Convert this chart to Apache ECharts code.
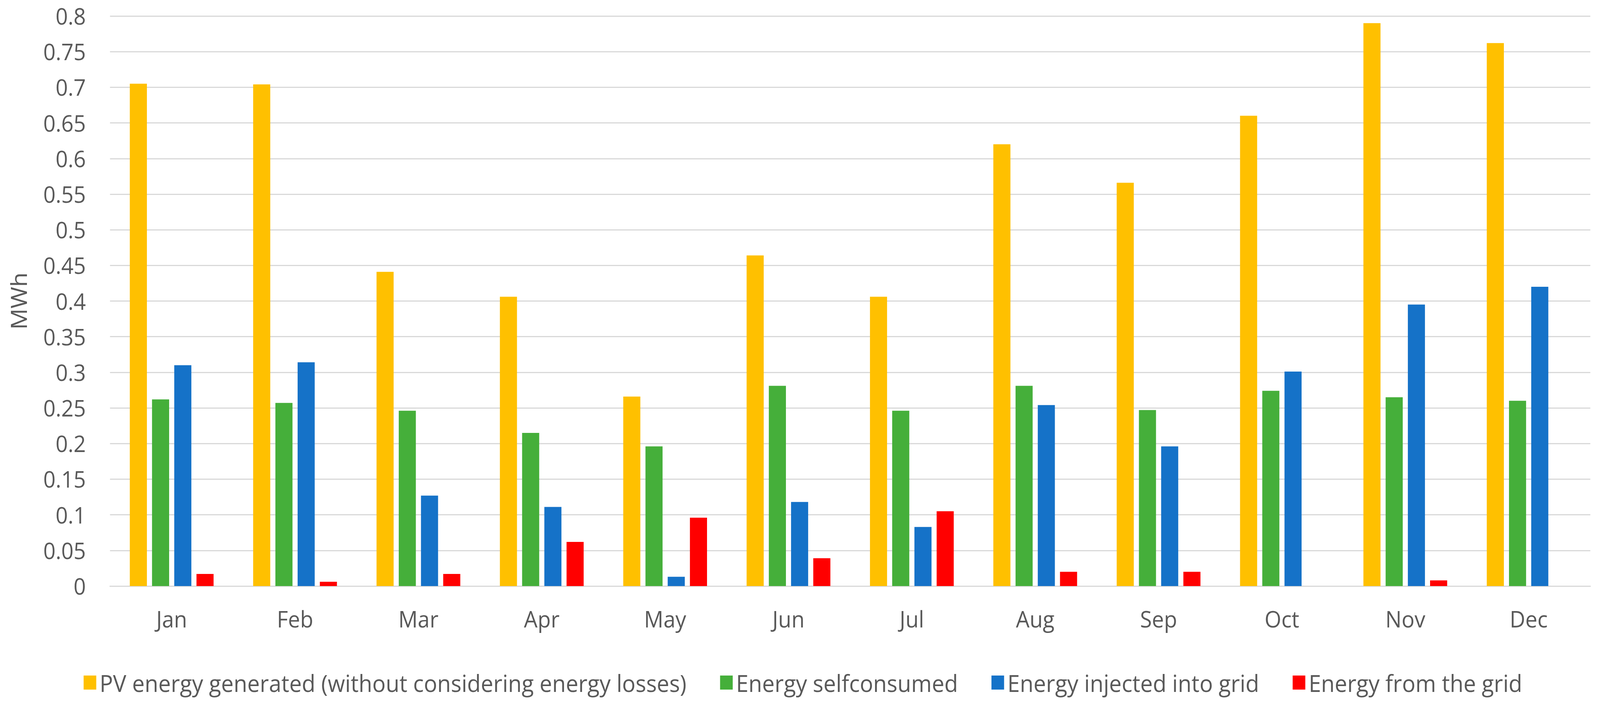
<!DOCTYPE html>
<html>
<head>
<meta charset="utf-8">
<script src="https://cdn.jsdelivr.net/npm/echarts@6/dist/echarts.min.js"></script>
<style>html,body{margin:0;padding:0;background:#fff;overflow:hidden;}#c{width:4305px;height:1807px;transform-origin:0 0;}</style>
</head>
<body>
<div id="c"></div>
<script>
const months = ['Jan','Feb','Mar','Apr','May','Jun','Jul','Aug','Sep','Oct','Nov','Dec'];
const pvGenerated = [0.705,0.704,0.441,0.406,0.266,0.464,0.406,0.620,0.566,0.660,0.790,0.762];
const selfConsumed = [0.262,0.257,0.246,0.215,0.196,0.281,0.246,0.281,0.247,0.274,0.265,0.260];
const injected = [0.310,0.314,0.127,0.111,0.013,0.118,0.083,0.254,0.196,0.301,0.395,0.420];
const fromGrid = [0.017,0.006,0.017,0.062,0.096,0.039,0.105,0.020,0.020,0,0.008,0];
const seriesNames = ['PV energy generated (without considering energy losses)','Energy selfconsumed','Energy injected into grid','Energy from the grid'];
const colors = ['#FFC000','#45AF3A','#1572C8','#FF0000'];
const FONT = 'Open Sans';
const el = document.getElementById('c');
const sx = Math.min(1, window.innerWidth / 4305);
const sy = Math.min(1, window.innerHeight / 1807);
el.style.transform = 'scale(' + sx + ',' + sy + ')';
const chart = echarts.init(el, null, {renderer:'svg'});
const datasets = [pvGenerated, selfConsumed, injected, fromGrid];
chart.setOption({
  animation:false,
  backgroundColor:'#fff',
  color: colors,
  grid:{left:296,right:26,top:41,bottom:307,containLabel:false},
  legend:{
    left:220, top:1712, itemWidth:34, itemHeight:36, itemGap:90,
    icon:'rect',
    textStyle:{fontFamily:FONT,fontSize:60,color:'#595959',padding:[0,0,0,4]},
    data: seriesNames
  },
  xAxis:{
    type:'category', data:months,
    axisLine:{show:true,lineStyle:{color:'#D9D9D9',width:3}},
    axisTick:{show:false},
    axisLabel:{fontFamily:FONT,fontSize:58,color:'#595959',margin:55}
  },
  yAxis:{
    type:'value', min:0, max:0.8, interval:0.05,
    name:'MWh', nameLocation:'middle', nameGap:217, nameRotate:90,
    nameTextStyle:{fontFamily:FONT,fontSize:60,color:'#595959'},
    axisLine:{show:false}, axisTick:{show:false},
    axisLabel:{fontFamily:FONT,fontSize:58,color:'#595959',margin:65},
    splitLine:{lineStyle:{color:'#D9D9D9',width:3}}
  },
  series: datasets.map((d,i)=>({
    name:seriesNames[i], type:'bar', data:d,
    barWidth:46, barGap:'30%',
    itemStyle:{color:colors[i]}
  }))
});
</script>
</body>
</html>
